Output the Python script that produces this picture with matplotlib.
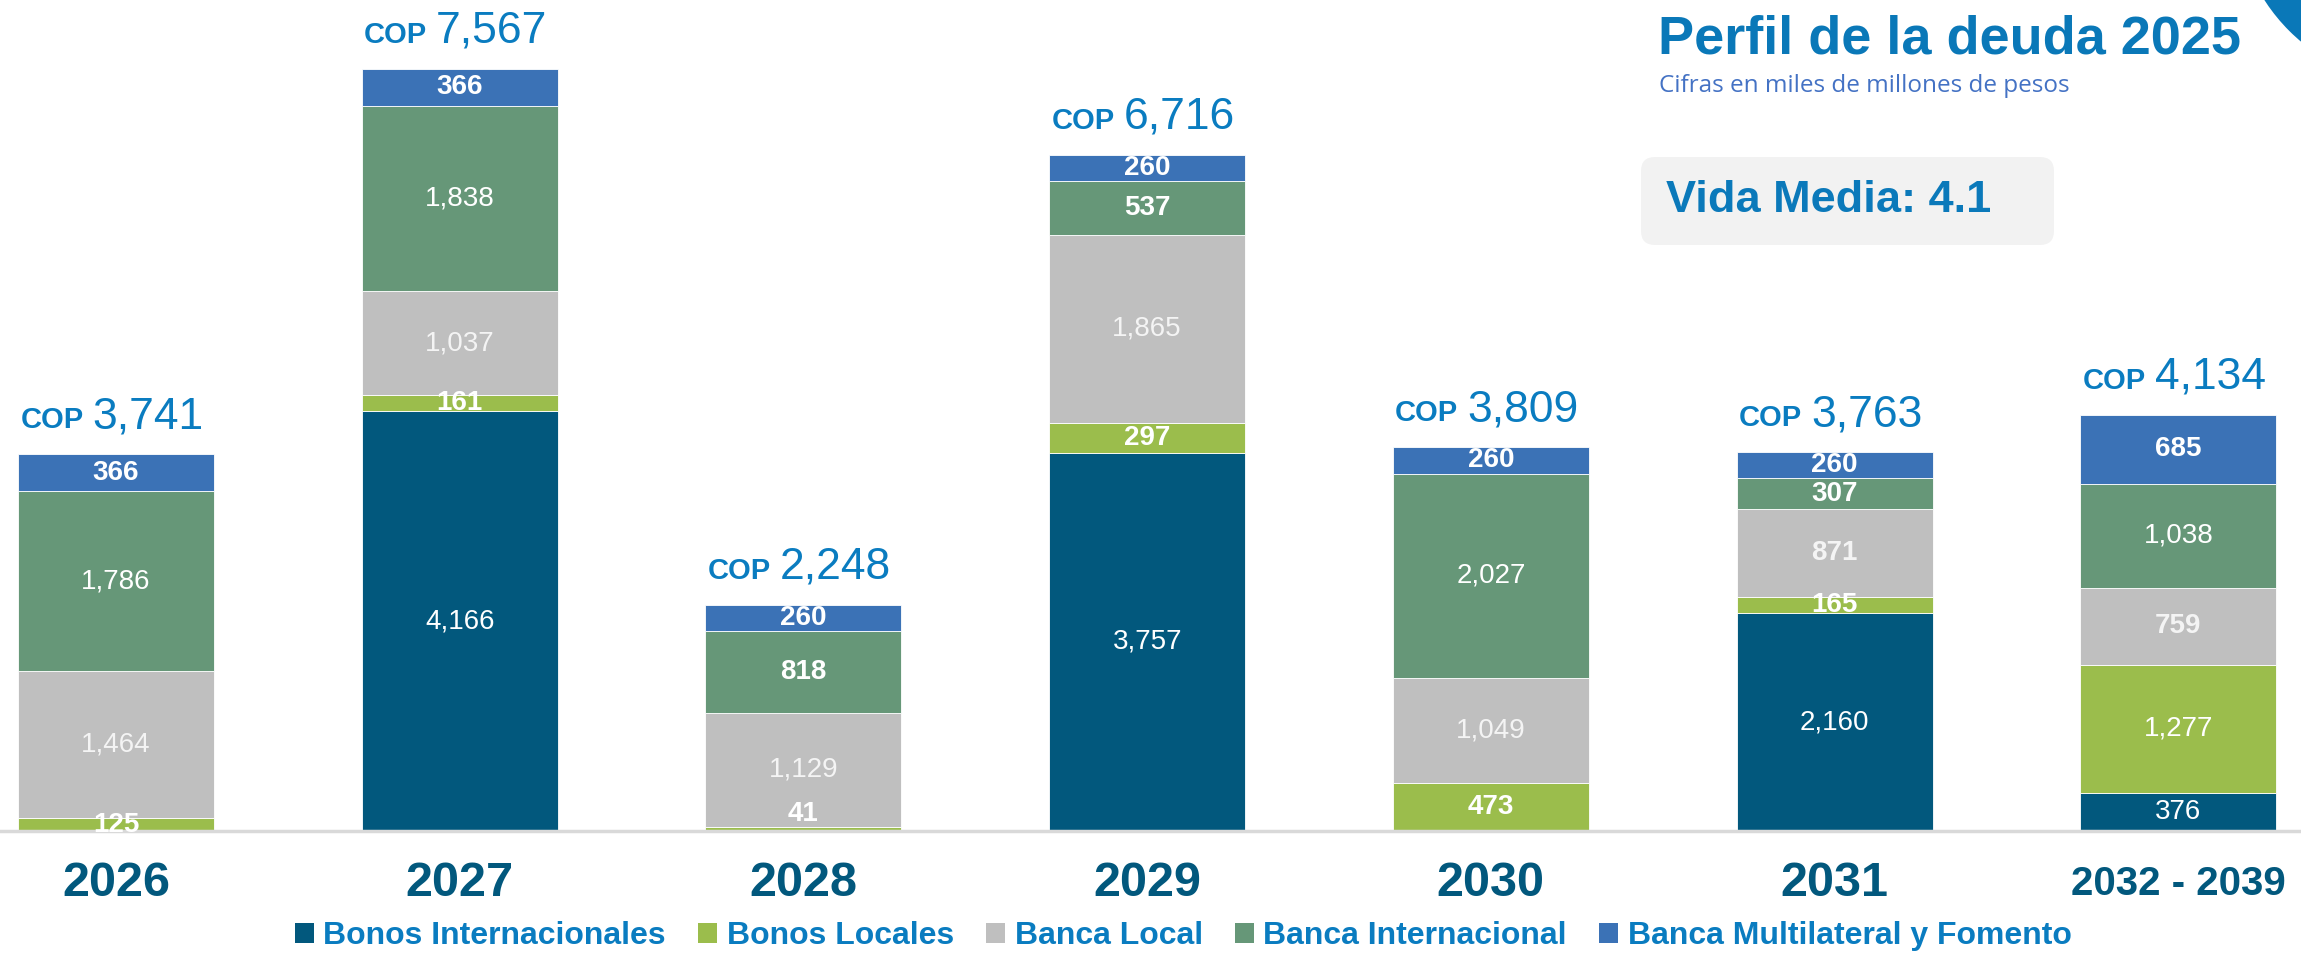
import matplotlib
matplotlib.use('Agg')
import matplotlib.pyplot as plt
from matplotlib.patches import FancyBboxPatch, Ellipse
from matplotlib.transforms import IdentityTransform

# Debt profile by year (miles de millones de pesos)
years = ['2026', '2027', '2028', '2029', '2030', '2031', '2032 - 2039']
bonos_int = [0, 4166, 0, 3757, 0, 2160, 376]
bonos_loc = [125, 161, 41, 297, 473, 165, 1277]
banca_loc = [1464, 1037, 1129, 1865, 1049, 871, 759]
banca_int = [1786, 1838, 818, 537, 2027, 307, 1038]
banca_mult = [366, 366, 260, 260, 260, 260, 685]
totals = [3741, 7567, 2248, 6716, 3809, 3763, 4134]

series_names = ['Bonos Internacionales', 'Bonos Locales', 'Banca Local',
                'Banca Internacional', 'Banca Multilateral y Fomento']
series_vals = [bonos_int, bonos_loc, banca_loc, banca_int, banca_mult]
colors = ['#02587d', '#9bbd4c', '#bfbfbf', '#669778', '#3b72b6']

blue_txt = '#0a7cc0'
narrow = ['Liberation Sans Narrow', 'Liberation Sans', 'DejaVu Sans']
plt.rcParams['font.family'] = ['Liberation Sans', 'DejaVu Sans']

W, H = 2301, 956
fig = plt.figure(figsize=(W / 100, H / 100), dpi=100)
ax = fig.add_axes([0, 0.1308, 1, 0.8692])
ax.set_xlim(-0.3375, 6.357)
ax.set_ylim(0, 8252)
for s in ax.spines.values():
    s.set_visible(False)
ax.set_yticks([])
ax.set_xticks(range(len(years)), years)
ax.tick_params(axis='x', length=0, pad=38)
for lab in ax.get_xticklabels():
    lab.set_family(narrow)
    lab.set_fontweight('bold')
    lab.set_fontsize(35 if len(lab.get_text()) <= 4 else 29)
    lab.set_verticalalignment('center')
    lab.set_color('#02587d')

x = list(range(len(years)))
bottoms = [0] * len(years)
handles = []
for name, vals, col in zip(series_names, series_vals, colors):
    b = ax.bar(x, vals, 0.57, bottom=bottoms, color=col, edgecolor='white',
               linewidth=0.6, label=name, zorder=2)
    handles.append(b)
    txt_col = '#f4f4f4' if name == 'Banca Local' else 'white'
    for i, v in enumerate(vals):
        if v <= 0:
            continue
        bold = (v < 1000 and name != 'Bonos Internacionales')
        if v < 100:
            ax.text(i, bottoms[i] + v, f'{v:,}', ha='center', va='bottom',
                    color=txt_col, fontsize=20,
                    fontweight='bold' if bold else 'normal', zorder=4)
        else:
            ax.text(i, bottoms[i] + v / 2, f'{v:,}', ha='center', va='center',
                    color=txt_col, fontsize=20,
                    fontweight='bold' if bold else 'normal', zorder=4)
    bottoms = [bt + v for bt, v in zip(bottoms, vals)]

# baseline
ax.axhline(0, color='#d9d9d9', lw=2.5, zorder=3, clip_on=False)

# COP totals above bars
renderer = fig.canvas.get_renderer()
for i, tot in enumerate(totals):
    xp, yp = ax.transData.transform((i, bottoms[i]))
    t1 = fig.text(0, 0, 'COP', transform=IdentityTransform(), fontsize=21,
                  fontweight='bold', color=blue_txt, va='baseline', ha='left')
    t2 = fig.text(0, 0, f'{tot:,}', transform=IdentityTransform(), fontsize=32,
                  color=blue_txt, va='baseline', ha='left')
    w1 = t1.get_window_extent(renderer).width
    w2 = t2.get_window_extent(renderer).width
    gap = 9
    start = xp - (w1 + gap + w2) / 2 - 4
    yb = yp + 26
    t1.set_position((start, yb))
    t2.set_position((start + w1 + gap, yb))

# Title block
fig.text(1658 / W, 1 - 40 / H, 'Perfil de la deuda 2025', fontsize=39,
         fontweight='bold', color='#0a78b8', ha='left', va='center')
fig.text(1659 / W, 1 - 86 / H, 'Cifras en miles de millones de pesos',
         family=['Open Sans', 'DejaVu Sans'], fontsize=17.5, color='#4472c4',
         ha='left', va='center')

box = FancyBboxPatch((1641, H - 245), 413, 88,
                     boxstyle='round,pad=0,rounding_size=14',
                     transform=IdentityTransform(), facecolor='#f2f2f2',
                     edgecolor='none')
fig.patches.append(box)
fig.text(1666 / W, 1 - 201 / H, 'Vida Media: 4.1', family=narrow, fontsize=32.5,
         fontweight='bold', color='#0b79ba', ha='left', va='center')

# corner decoration
arc = Ellipse((2420 / W, 1 + 100 / H), 2 * 185 / W, 2 * 185 / H,
              transform=fig.transFigure, facecolor='#0a78b8', edgecolor='none')
fig.patches.append(arc)

fig.legend(handles=handles, labels=series_names, loc='center', ncol=5,
           bbox_to_anchor=(1183 / W, 1 - 936 / H), frameon=False,
           prop={'family': narrow, 'weight': 'bold', 'size': 23},
           labelcolor=blue_txt, handlelength=0.6, handleheight=0.6,
           handletextpad=0.3, columnspacing=1.0)
for h in fig.legends[0].legend_handles:
    h.set_edgecolor('none')

fig.savefig('out.png', dpi=100)
